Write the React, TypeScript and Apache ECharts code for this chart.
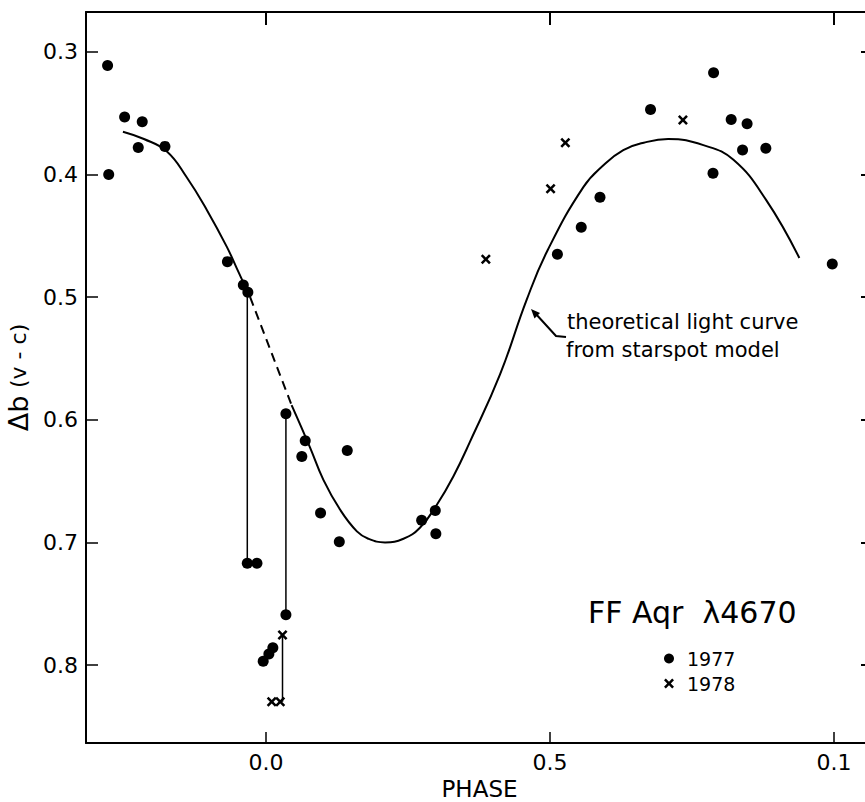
import React, { useEffect, useRef } from "react";
import * as echarts from "echarts";

// ---- data (phase, Δb) ----
const obs1977: number[][] = [
  [-0.279, 0.311], [-0.277, 0.4], [-0.249, 0.353], [-0.218, 0.357], [-0.225, 0.378],
  [-0.178, 0.377], [-0.068, 0.471], [-0.04, 0.49], [-0.032, 0.496], [-0.033, 0.717],
  [-0.016, 0.717], [-0.005, 0.797], [0.005, 0.791], [0.012, 0.786], [0.035, 0.759],
  [0.035, 0.595], [0.069, 0.617], [0.063, 0.63], [0.096, 0.676], [0.129, 0.6995],
  [0.143, 0.625], [0.274, 0.682], [0.298, 0.674], [0.299, 0.693], [0.513, 0.465],
  [0.555, 0.443], [0.588, 0.4185], [0.677, 0.347], [0.788, 0.317], [0.787, 0.399],
  [0.819, 0.355], [0.847, 0.3585], [0.839, 0.38], [0.88, 0.3786], [0.997, 0.473],
];
const obs1978: number[][] = [
  [0.01, 0.83], [0.025, 0.83], [0.029, 0.7755], [0.387, 0.469], [0.501, 0.4115],
  [0.527, 0.374], [0.734, 0.3555],
];
const modelSolidA: number[][] = [
  [-0.252, 0.365], [-0.215, 0.371], [-0.175, 0.381], [-0.14, 0.402], [-0.104, 0.429],
  [-0.069, 0.459], [-0.048, 0.48], [-0.028, 0.5],
];
const modelDashed: number[][] = [[-0.028, 0.5], [0.045, 0.588]];
const modelSolidB: number[][] = [
  [0.045, 0.588], [0.077, 0.622], [0.101, 0.649], [0.13, 0.673], [0.16, 0.691],
  [0.18, 0.697], [0.2095, 0.7], [0.242, 0.697], [0.271, 0.688], [0.3005, 0.6695],
  [0.33, 0.646], [0.359, 0.618], [0.412, 0.563], [0.459, 0.502], [0.496, 0.4615],
  [0.559, 0.41], [0.595, 0.392], [0.629, 0.38], [0.665, 0.374], [0.708, 0.371],
  [0.77, 0.376], [0.823, 0.388], [0.881, 0.421], [0.939, 0.468],
];
const connectors: number[][][] = [
  [[-0.033, 0.497], [-0.033, 0.717]],
  [[0.035, 0.595], [0.035, 0.759]],
  [[0.029, 0.7755], [0.029, 0.83]],
];
const xTicks = [0, 0.5, 1.0];
const xTickLabels = ["0.0", "0.5", "0.1"];
const yTicks = [0.3, 0.4, 0.5, 0.6, 0.7, 0.8];

const FONT = "DejaVu Sans";
const CROSS = "path://M0,1.8L1.8,0L5,3.2L8.2,0L10,1.8L6.8,5L10,8.2L8.2,10L5,6.8L1.8,10L0,8.2L3.2,5Z";

export default function App() {
  const ref = useRef<HTMLDivElement>(null);
  useEffect(() => {
    if (!ref.current) return;
    const chart = echarts.init(ref.current, undefined, { renderer: "svg" });
    const xMin = -0.317, xMax = 1.0687, yMin = 0.2674, yMax = 0.8636;
    const line = { color: "#000", width: 2 };
    const baseX = {
      type: "value", min: xMin, max: xMax,
      splitLine: { show: false },
      axisLine: { show: true, onZero: false, lineStyle: line },
    };
    const baseY = {
      type: "value", min: yMin, max: yMax, inverse: true,
      splitLine: { show: false },
      axisLine: { show: true, onZero: false, lineStyle: line },
    };
    chart.setOption({
      animation: false,
      backgroundColor: "#fff",
      textStyle: { fontFamily: FONT, color: "#000" },
      grid: { left: 86, top: 12, right: -8, bottom: 59, outerBoundsMode: "none", containLabel: false },
      xAxis: [
        {
          ...baseX, position: "bottom",
          axisTick: { inside: true, length: 11, customValues: xTicks, lineStyle: { width: 1.5, color: "#000" } },
          axisLabel: {
            customValues: xTicks, fontSize: 22, color: "#000", margin: 8, fontFamily: FONT,
            formatter: (v: number) => xTickLabels[xTicks.findIndex((t) => Math.abs(t - v) < 1e-6)] ?? "",
          },
          name: "PHASE", nameLocation: "middle", nameGap: 33,
          nameTextStyle: { fontSize: 23, color: "#000", fontFamily: FONT },
        },
        {
          ...baseX, position: "top",
          axisTick: { inside: true, length: 13, customValues: xTicks, lineStyle: { width: 2, color: "#000" } },
          axisLabel: { show: false },
        },
      ],
      yAxis: [
        {
          ...baseY, position: "left",
          axisTick: { inside: true, length: 12, customValues: yTicks, lineStyle: { width: 1.5, color: "#000" } },
          axisLabel: {
            customValues: yTicks, fontSize: 22, color: "#000", margin: 8, fontFamily: FONT,
            formatter: (v: number) => v.toFixed(1),
          },
          name: "{a|Δb}  {b|(v - c)}", nameLocation: "middle", nameGap: 53, nameRotate: 90,
          nameTextStyle: {
            color: "#000", fontFamily: FONT,
            rich: { a: { fontSize: 27, fontFamily: FONT }, b: { fontSize: 22, fontFamily: FONT } },
          },
        },
        {
          ...baseY, position: "right",
          axisTick: { inside: true, length: 12, customValues: yTicks, lineStyle: { width: 2, color: "#000" } },
          axisLabel: { show: false },
        },
      ],
      legend: {
        data: ["1977", "1978"], orient: "vertical", left: 659, top: 644,
        itemWidth: 10, itemHeight: 10, itemGap: 6,
        textStyle: { fontSize: 19, color: "#000", fontFamily: FONT, padding: [0, 0, 0, 8] },
      },
      graphic: [
        {
          type: "text", left: 588, top: 597,
          style: { text: "FF Aqr  λ4670", fontSize: 30, fill: "#000", fontFamily: FONT },
        },
        {
          type: "text", x: 567, y: 311,
          style: { text: "theoretical light curve", fontSize: 21, fill: "#000", fontFamily: FONT, textVerticalAlign: "top" },
        },
        {
          type: "text", x: 566, y: 339,
          style: { text: "from starspot model", fontSize: 21, fill: "#000", fontFamily: FONT, textVerticalAlign: "top" },
        },
        {
          type: "polyline",
          shape: { points: [[566, 337], [556, 336], [535, 313]] },
          style: { stroke: "#000", lineWidth: 2, fill: null },
        },
        {
          type: "polygon",
          shape: { points: [[531, 309], [540, 313], [534.5, 318.5]] },
          style: { fill: "#000" },
        },
      ],
      series: [
        ...connectors.map((seg, i) => ({
          name: "conn" + i, type: "line", data: seg, symbol: "none",
          lineStyle: { color: "#000", width: 1.5 }, silent: true, z: 2,
        })),
        {
          name: "model", type: "line", data: modelSolidA, symbol: "none", smooth: 0.45,
          lineStyle: { color: "#000", width: 2 }, z: 2,
        },
        {
          name: "model-dashed", type: "line", data: modelDashed, symbol: "none",
          lineStyle: { color: "#000", width: 2, type: [9, 6] }, z: 2,
        },
        {
          name: "model-b", type: "line", data: modelSolidB, symbol: "none", smooth: 0.45,
          lineStyle: { color: "#000", width: 2 }, z: 2,
        },
        {
          name: "1977", type: "scatter", data: obs1977, symbol: "circle", symbolSize: 11,
          itemStyle: { color: "#000", opacity: 1 }, z: 3,
        },
        {
          name: "1978", type: "scatter", data: obs1978, symbol: CROSS, symbolSize: 10,
          itemStyle: { color: "#000", opacity: 1 }, z: 3,
        },
      ],
    });
    return () => chart.dispose();
  }, []);
  return (
    <div
      ref={ref}
      style={{ position: "absolute", left: 0, top: 0, width: 865, height: 802, background: "#fff" }}
    />
  );
}
